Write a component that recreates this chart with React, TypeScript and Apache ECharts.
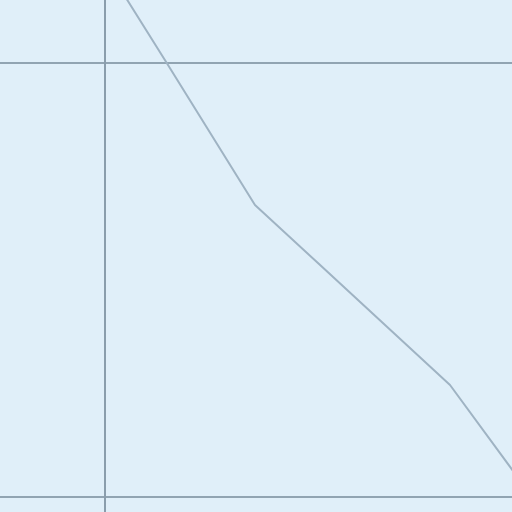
import React, { useEffect, useRef } from "react";
import * as echarts from "echarts";

const xValues = [1.022, 1.121, 1.303, 1.434, 1.697, 1.838];
const yValues = [2.187, 2.007, 1.673, 1.535, 1.258, 1.039];

export default function App() {
  const ref = useRef<HTMLDivElement>(null);
  useEffect(() => {
    if (!ref.current) return;
    const chart = echarts.init(ref.current, null, { renderer: "svg" });
    chart.setOption({
      animation: false,
      backgroundColor: "#e0eff9",
      grid: { left: 0, right: 0, top: 0, bottom: 0 },
      xAxis: {
        type: "value",
        min: 0,
        max: 2,
        interval: 1,
        axisLine: { show: false },
        axisTick: { show: false },
        axisLabel: { show: false },
        splitLine: { show: true, lineStyle: { color: "#8a9dac", width: 2 } },
      },
      yAxis: {
        type: "value",
        min: 0,
        max: 3,
        interval: 1,
        axisLine: { show: false },
        axisTick: { show: false },
        axisLabel: { show: false },
        splitLine: { show: true, lineStyle: { color: "#91a4b2", width: 2 } },
      },
      series: [
        {
          type: "line",
          data: xValues.map((x, i) => [x, yValues[i]]),
          symbol: "none",
          lineStyle: { color: "#9fb3c3", width: 2 },
        },
      ],
    });
    return () => chart.dispose();
  }, []);
  return (
    <div style={{ position: "fixed", left: 0, top: 0, width: 512, height: 512, overflow: "hidden", background: "#e0eff9" }}>
      <div
        ref={ref}
        style={{ position: "absolute", left: -390, top: -371, width: 990, height: 1302 }}
      />
    </div>
  );
}
